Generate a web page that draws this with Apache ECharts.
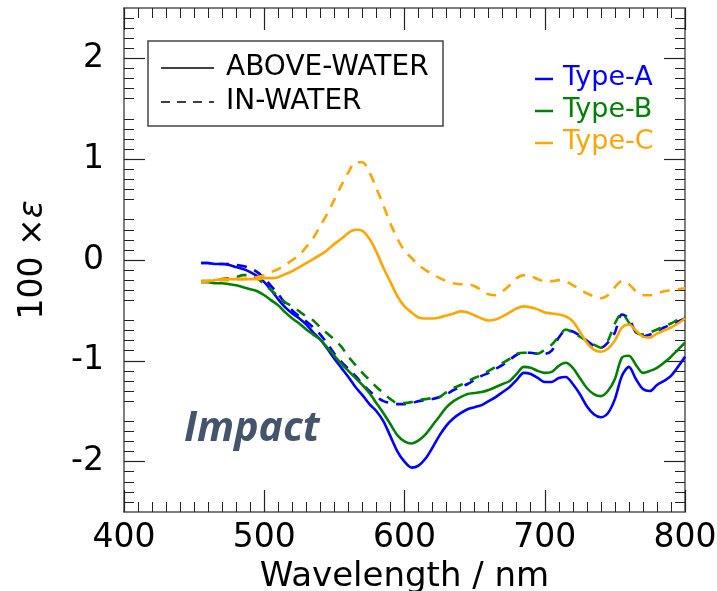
<!DOCTYPE html>
<html>
<head>
<meta charset="utf-8">
<script src="https://cdn.jsdelivr.net/npm/echarts@6/dist/echarts.min.js"></script>
<style>
  html, body { margin: 0; padding: 0; background: #fff; }
  #chart { width: 717px; height: 591px; }
</style>
</head>
<body>
<div id="chart"></div>
<script>
// wavelength grid (nm)
var wavelength = [
  455, 460, 465, 470, 475, 480, 485, 490, 495, 500,
  505, 510, 515, 520, 525, 530, 535, 540, 545, 550,
  555, 560, 565, 570, 575, 580, 585, 590, 595, 600,
  605, 610, 615, 620, 625, 630, 635, 640, 645, 650,
  655, 660, 665, 670, 675, 680, 685, 690, 695, 700,
  705, 710, 715, 720, 725, 730, 735, 740, 745, 750,
  755, 760, 765, 770, 775, 780, 785, 790, 795, 800
];

// 100 x epsilon, above-water (solid)
var typeA_above = [
  -0.03, -0.03, -0.04, -0.04, -0.05, -0.07, -0.09, -0.12, -0.16, -0.22,
  -0.30, -0.39, -0.47, -0.53, -0.58, -0.64, -0.72, -0.79, -0.88, -0.98,
  -1.07, -1.16, -1.26, -1.34, -1.43, -1.50, -1.60, -1.75, -1.90, -2.00,
  -2.06, -2.04, -1.97, -1.86, -1.74, -1.64, -1.57, -1.52, -1.48, -1.46,
  -1.44, -1.40, -1.36, -1.31, -1.26, -1.19, -1.12, -1.13, -1.17, -1.21,
  -1.21, -1.17, -1.16, -1.23, -1.33, -1.45, -1.53, -1.56, -1.52, -1.38,
  -1.15, -1.06, -1.18, -1.28, -1.30, -1.24, -1.20, -1.15, -1.06, -0.96
];
var typeB_above = [
  -0.22, -0.22, -0.23, -0.23, -0.24, -0.25, -0.27, -0.29, -0.31, -0.35,
  -0.40, -0.45, -0.52, -0.58, -0.63, -0.69, -0.74, -0.79, -0.87, -0.95,
  -1.03, -1.10, -1.17, -1.24, -1.32, -1.42, -1.52, -1.63, -1.74, -1.80,
  -1.82, -1.79, -1.73, -1.64, -1.55, -1.46, -1.40, -1.36, -1.33, -1.32,
  -1.31, -1.29, -1.26, -1.23, -1.20, -1.13, -1.06, -1.07, -1.10, -1.12,
  -1.11, -1.05, -1.02, -1.07, -1.17, -1.27, -1.33, -1.35, -1.30, -1.18,
  -0.97, -0.95, -1.04, -1.12, -1.10, -1.07, -1.02, -0.96, -0.89, -0.82
];
var typeC_above = [
  -0.22, -0.21, -0.20, -0.19, -0.19, -0.19, -0.19, -0.19, -0.19, -0.18,
  -0.18, -0.17, -0.14, -0.11, -0.07, -0.03, 0.01, 0.05, 0.10, 0.16,
  0.21, 0.27, 0.30, 0.29, 0.21, 0.08, -0.08, -0.22, -0.36, -0.46,
  -0.52, -0.57, -0.58, -0.58, -0.57, -0.55, -0.53, -0.51, -0.52, -0.55,
  -0.58, -0.60, -0.59, -0.56, -0.52, -0.48, -0.46, -0.47, -0.49, -0.52,
  -0.53, -0.54, -0.56, -0.61, -0.71, -0.82, -0.89, -0.91, -0.88, -0.80,
  -0.67, -0.64, -0.70, -0.76, -0.77, -0.73, -0.70, -0.67, -0.63, -0.58
];

// 100 x epsilon, in-water (dashed)
var typeA_in = [
  -0.03, -0.03, -0.04, -0.04, -0.04, -0.05, -0.06, -0.08, -0.12, -0.18,
  -0.26, -0.34, -0.43, -0.50, -0.56, -0.61, -0.67, -0.74, -0.83, -0.93,
  -1.01, -1.08, -1.15, -1.23, -1.30, -1.36, -1.40, -1.42, -1.43, -1.43,
  -1.42, -1.40, -1.39, -1.38, -1.36, -1.33, -1.29, -1.26, -1.23, -1.19,
  -1.15, -1.12, -1.08, -1.04, -0.99, -0.94, -0.92, -0.92, -0.93, -0.93,
  -0.90, -0.77, -0.70, -0.71, -0.75, -0.80, -0.85, -0.87, -0.82, -0.72,
  -0.54, -0.58, -0.72, -0.76, -0.74, -0.71, -0.67, -0.64, -0.61, -0.58
];
var typeB_in = [
  -0.21, -0.21, -0.20, -0.19, -0.18, -0.17, -0.15, -0.15, -0.18, -0.24,
  -0.30, -0.36, -0.42, -0.46, -0.51, -0.56, -0.60, -0.67, -0.73, -0.79,
  -0.86, -0.96, -1.04, -1.12, -1.19, -1.26, -1.32, -1.38, -1.42, -1.42,
  -1.41, -1.39, -1.38, -1.37, -1.36, -1.31, -1.27, -1.24, -1.20, -1.17,
  -1.14, -1.10, -1.06, -1.02, -0.98, -0.93, -0.92, -0.92, -0.93, -0.89,
  -0.84, -0.76, -0.69, -0.72, -0.76, -0.80, -0.84, -0.87, -0.80, -0.63,
  -0.53, -0.62, -0.72, -0.74, -0.72, -0.69, -0.66, -0.63, -0.59, -0.56
];
var typeC_in = [
  -0.21, -0.21, -0.20, -0.20, -0.20, -0.19, -0.19, -0.18, -0.17, -0.15,
  -0.12, -0.09, -0.05, 0.00, 0.05, 0.13, 0.22, 0.34, 0.46, 0.60,
  0.74, 0.87, 0.97, 0.97, 0.87, 0.71, 0.54, 0.36, 0.21, 0.09,
  0.02, -0.05, -0.10, -0.14, -0.18, -0.21, -0.23, -0.24, -0.24, -0.26,
  -0.30, -0.34, -0.35, -0.31, -0.25, -0.18, -0.15, -0.16, -0.19, -0.21,
  -0.21, -0.20, -0.21, -0.25, -0.29, -0.33, -0.36, -0.38, -0.35, -0.27,
  -0.21, -0.24, -0.31, -0.35, -0.35, -0.33, -0.31, -0.30, -0.29, -0.28
];

var typeNames = ['Type-A', 'Type-B', 'Type-C'];
var typeColors = ['#0000ff', '#008000', '#ffa500'];
var yLabelValues = [-2, -1, 0, 1, 2];

var FONT = "'DejaVu Sans', sans-serif";

function pairs(ys) {
    var out = [];
    for (var i = 0; i < wavelength.length; i++) out.push([wavelength[i], ys[i]]);
    return out;
}

function lineSeries(name, ys, color, dashed) {
    return {
        name: name,
        type: 'line',
        xAxisIndex: 0,
        yAxisIndex: 0,
        showSymbol: false,
        smooth: 0.3,
        animation: false,
        lineStyle: { color: color, width: 2.6, type: dashed ? [10, 8] : 'solid' },
        data: pairs(ys)
    };
}

function xAxisCfg(pos, labels) {
    return {
        type: 'value', position: pos, min: 400, max: 800, interval: 100,
        axisLine: { show: true, onZero: false, lineStyle: { color: '#555', width: 1.5 } },
        axisTick: { show: true, inside: true, length: 22, lineStyle: { color: '#222', width: 1.2 } },
        minorTick: { show: true, splitNumber: 10, length: 10, lineStyle: { color: '#222', width: 1 } },
        splitLine: { show: false },
        axisLabel: { show: labels, fontSize: 33, color: '#000', margin: 10, fontFamily: FONT },
        name: labels ? 'Wavelength / nm' : '',
        nameLocation: 'middle',
        nameGap: 48,
        nameTextStyle: { fontSize: 34, color: '#000', fontFamily: FONT }
    };
}

function yAxisCfg(pos, labels) {
    return {
        type: 'value', position: pos, min: -2.5, max: 2.5, interval: 0.5,
        axisLine: { show: true, onZero: false, lineStyle: { color: '#555', width: 1.5 } },
        axisTick: { show: true, inside: true, length: 21, customValues: yLabelValues, lineStyle: { color: '#222', width: 1.2 } },
        minorTick: { show: true, splitNumber: 5, length: 10, lineStyle: { color: '#222', width: 1 } },
        splitLine: { show: false },
        axisLabel: {
            show: labels, fontSize: 33, color: '#000', margin: 20, fontFamily: FONT,
            customValues: yLabelValues,
            formatter: function (v) { return String(v); }
        },
        name: labels ? '100 ×{e|ε}' : '',
        nameLocation: 'middle',
        nameGap: 74,
        nameRotate: 90,
        nameTextStyle: {
            fontSize: 33, color: '#000', fontFamily: FONT,
            rich: { e: { fontSize: 33, fontStyle: 'italic', fontFamily: FONT } }
        }
    };
}

var chart = echarts.init(document.getElementById('chart'));

var series = [];
for (var k = 0; k < 3; k++) {
    var above = [typeA_above, typeB_above, typeC_above][k];
    var inw = [typeA_in, typeB_in, typeC_in][k];
    series.push(lineSeries(typeNames[k] + ' above-water', above, typeColors[k], false));
    series.push(lineSeries(typeNames[k] + ' in-water', inw, typeColors[k], true));
}

var graphics = [
    // style legend box
    { type: 'rect', shape: { x: 148, y: 41, width: 295, height: 85 },
      style: { fill: '#fff', stroke: '#444', lineWidth: 1.5 }, z: 10 },
    { type: 'line', shape: { x1: 161, y1: 68, x2: 214, y2: 68 },
      style: { stroke: '#000', lineWidth: 1.5 }, z: 11 },
    { type: 'line', shape: { x1: 161, y1: 102, x2: 214, y2: 102 },
      style: { stroke: '#000', lineWidth: 1.5, lineDash: [9, 7] }, z: 11 },
    { type: 'text', left: 226, top: 54, z: 11,
      style: { text: 'ABOVE-WATER', font: "28px " + FONT, fill: '#000' } },
    { type: 'text', left: 226, top: 88, z: 11,
      style: { text: 'IN-WATER', font: "28px " + FONT, fill: '#000' } },
    // "Impact" annotation
    { type: 'text', left: 184, top: 409, z: 11,
      style: { text: 'Impact', font: "italic bold 41px 'Open Sans', Lato, sans-serif", fill: '#44546a' } }
];
var typeY = [79, 111, 143];
for (var t = 0; t < 3; t++) {
    graphics.push({ type: 'line', shape: { x1: 535, y1: typeY[t], x2: 553, y2: typeY[t] },
        style: { stroke: typeColors[t], lineWidth: 2.5 }, z: 11 });
    graphics.push({ type: 'text', left: 563, top: typeY[t] - 15, z: 11,
        style: { text: typeNames[t], font: "27px " + FONT, fill: typeColors[t] } });
}

var option = {
    animation: false,
    backgroundColor: '#fff',
    grid: { left: 124, right: 32, top: 8, bottom: 79, outerBoundsMode: 'none', containLabel: false },
    xAxis: [xAxisCfg('bottom', true), xAxisCfg('top', false)],
    yAxis: [yAxisCfg('left', true), yAxisCfg('right', false)],
    series: series,
    graphic: graphics
};
chart.setOption(option);
</script>
</body>
</html>
